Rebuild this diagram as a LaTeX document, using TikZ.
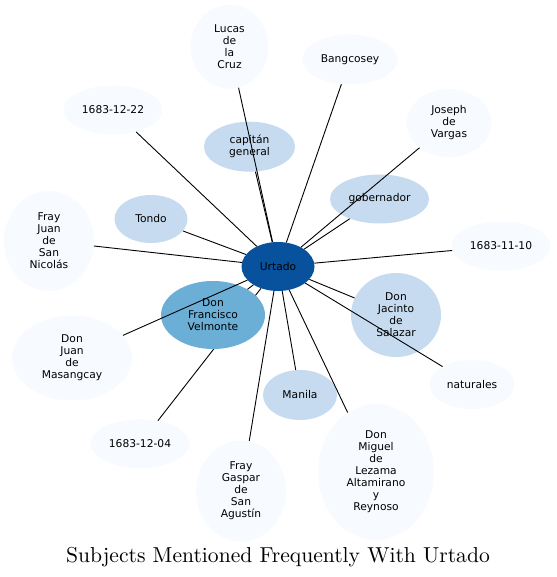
\documentclass[tikz,border=0pt]{standalone}
\usepackage{fontspec}
\newfontfamily\labelfont{DejaVu Sans}
\newfontfamily\titlefont{lmroman10-regular}[Extension=.otf]
\usetikzlibrary{shapes.geometric}
\definecolor{hubblue}{HTML}{08519C}
\definecolor{midblue}{HTML}{6BAED6}
\definecolor{paleblue}{HTML}{C6DBEF}
\definecolor{faintblue}{HTML}{F7FBFF}
\tikzset{
  subj/.style={ellipse, inner sep=0pt, align=center,
    font=\labelfont\fontsize{10.7}{12}\selectfont},
  near/.style={subj, fill=paleblue},
  far/.style={subj, fill=faintblue},
  link/.style={line width=0.9pt}
}
\begin{document}
\begin{tikzpicture}[x=1pt, y=-1pt]
                \useasboundingbox (0,0) rectangle (556,577);
                % Define node positions
                \node[subj, fill=hubblue, minimum width=73pt, minimum height=49pt] (U) at (278,266.5) {Urtado};
                \node[far, minimum width=99pt, minimum height=49pt] (d04) at (140,443.7) {1683-12-04};
                % this link runs under Don Francisco Velmonte
                \draw[link] (U) -- (d04);
                \node[subj, fill=midblue, minimum width=104pt, minimum height=68pt] (F) at (213,315) {Don\\Francisco\\Velmonte};
                \node[near, minimum width=91pt, minimum height=50pt] (cap) at (249.5,146.7) {capitán\\general};
                \node[near, minimum width=73pt, minimum height=48pt] (tondo) at (151,219) {Tondo};
                \node[near, minimum width=99pt, minimum height=49pt] (gob) at (379.5,199) {gobernador};
                \node[near, minimum width=90pt, minimum height=84pt] (jac) at (396,315) {Don\\Jacinto\\de\\Salazar};
                \node[near, minimum width=74pt, minimum height=50pt] (man) at (300,395) {Manila};
                \node[far, minimum width=78pt, minimum height=84pt] (lucas) at (229.5,46.7) {Lucas\\de\\la\\Cruz};
                \node[far, minimum width=99pt, minimum height=49pt] (d22) at (113,110) {1683-12-22};
                \node[far, minimum width=95pt, minimum height=50pt] (bang) at (350,59.5) {Bangcosey};
                \node[far, minimum width=85pt, minimum height=68pt] (jos) at (449,123) {Joseph\\de\\Vargas};
                \node[far, minimum width=99pt, minimum height=49pt] (d10) at (501,246) {1683-11-10};
                \node[far, minimum width=90pt, minimum height=100pt] (nic) at (49,241) {Fray\\Juan\\de\\San\\Nicolás};
                \node[far, minimum width=120pt, minimum height=85pt] (mas) at (72,358) {Don\\Juan\\de\\Masangcay};
                \node[far, minimum width=90pt, minimum height=101pt] (gas) at (241,491) {Fray\\Gaspar\\de\\San\\Agustín};
                \node[far, minimum width=116pt, minimum height=136pt] (mig) at (376,472) {Don\\Miguel\\de\\Lezama\\Altamirano\\y\\Reynoso};
                \node[far, minimum width=85pt, minimum height=49pt] (nat) at (472,384.5) {naturales};

                % Draw links
                \foreach \t in {F,cap,tondo,gob,jac,man,lucas,d22,bang,jos,d10,nic,mas,gas,mig,nat}
                    \draw[link] (U) -- (\t);

                % Title
                \node[font=\titlefont\fontsize{21.6}{26}\selectfont, anchor=base] (title) at (278,562) {Subjects Mentioned Frequently With Urtado};
            \end{tikzpicture}
\end{document}
